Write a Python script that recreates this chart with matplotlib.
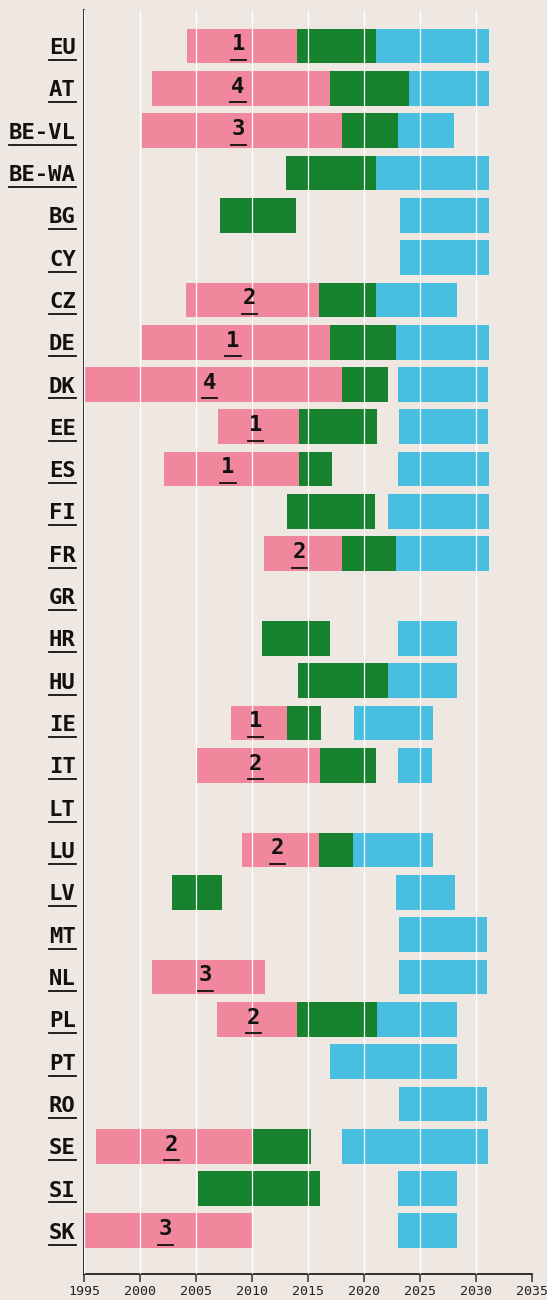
import matplotlib
matplotlib.use('Agg')
import matplotlib.pyplot as plt
from matplotlib.lines import Line2D
import numpy as np

countries = ['EU', 'AT', 'BE-VL', 'BE-WA', 'BG', 'CY', 'CZ', 'DE', 'DK', 'EE',
             'ES', 'FI', 'FR', 'GR', 'HR', 'HU', 'IE', 'IT', 'LT', 'LU',
             'LV', 'MT', 'NL', 'PL', 'PT', 'RO', 'SE', 'SI', 'SK']

nan = np.nan
# pink phase: start, end and the count shown inside it
pink_start = [2004.2, 2001.1, 2000.2, nan, nan, nan, 2004.1, 2000.2, 1995.0, 2007.0,
              2002.1, nan, 2011.1, nan, nan, nan, 2008.1, 2005.1, nan, 2009.1,
              nan, nan, 2001.1, 2006.9, nan, nan, 1996.1, nan, 1995.0]
pink_end = [2014.0, 2017.0, 2018.0, nan, nan, nan, 2016.0, 2017.0, 2018.0, 2014.2,
            2014.2, nan, 2018.0, nan, nan, nan, 2013.1, 2016.1, nan, 2016.0,
            nan, nan, 2011.2, 2014.0, nan, nan, 2010.1, nan, 2010.1]
pink_count = [1, 4, 3, None, None, None, 2, 1, 4, 1,
              1, None, 2, None, None, None, 1, 2, None, 2,
              None, None, 3, 2, None, None, 2, None, 3]

# green phase
green_start = [2014.0, 2017.0, 2018.0, 2013.0, 2007.1, nan, 2016.0, 2017.0, 2018.0, 2014.2,
               2014.2, 2013.1, 2018.0, nan, 2010.9, 2014.1, 2013.1, 2016.1, nan, 2016.0,
               2002.9, nan, nan, 2014.0, nan, nan, 2010.1, 2005.2, nan]
green_end = [2021.1, 2024.0, 2023.0, 2021.1, 2013.9, nan, 2021.1, 2022.9, 2022.1, 2021.2,
             2017.1, 2021.0, 2022.9, nan, 2017.0, 2022.1, 2016.2, 2021.1, nan, 2019.0,
             2007.3, nan, nan, 2021.2, nan, nan, 2015.3, 2016.1, nan]

# blue phase
blue_start = [2021.1, 2024.0, 2023.0, 2021.1, 2023.2, 2023.2, 2021.1, 2022.9, 2023.0, 2023.1,
              2023.0, 2022.1, 2022.9, nan, 2023.0, 2022.1, 2019.1, 2023.0, nan, 2019.0,
              2022.9, 2023.1, 2023.1, 2021.2, 2017.0, 2023.1, 2018.0, 2023.0, 2023.0]
blue_end = [2031.2, 2031.2, 2028.0, 2031.2, 2031.2, 2031.2, 2028.3, 2031.2, 2031.1, 2031.1,
            2031.2, 2031.2, 2031.2, nan, 2028.3, 2028.3, 2026.2, 2026.1, nan, 2026.2,
            2028.1, 2031.0, 2031.0, 2028.3, 2028.3, 2031.0, 2031.1, 2028.3, 2028.3]

years = [1995, 2000, 2005, 2010, 2015, 2020, 2025, 2030, 2035]

bg = '#efe8e2'
pink = '#f0879c'
green = '#16822e'
blue = '#48bfe0'
mono = 'DejaVu Sans Mono'

fig = plt.figure(figsize=(5.47, 13.0), dpi=100, facecolor=bg)
ax = fig.add_axes([0.1536, 0.02, 0.819, 0.9723])
ax.set_facecolor(bg)

y = np.arange(len(countries))
h = 0.82
for starts, ends, col in [(pink_start, pink_end, pink),
                          (green_start, green_end, green),
                          (blue_start, blue_end, blue)]:
    s = np.array(starts)
    e = np.array(ends)
    ok = ~np.isnan(s)
    ax.barh(y[ok], e[ok] - s[ok], left=s[ok], height=h, color=col, zorder=2)

for yr in years:
    ax.axvline(yr, color='white', lw=0.9, zorder=3)

nums = []
for i, c in enumerate(pink_count):
    if c is None:
        continue
    xc = (pink_start[i] + pink_end[i]) / 2 - 0.3
    t = ax.text(xc, i - 0.04, str(c), ha='center', va='center', fontsize=16,
                fontweight='bold', family=mono, color='#111111', zorder=4)
    nums.append((t, i))

ax.set_xlim(1995, 2035)
ax.set_ylim(len(countries) - 1 + 1.02, -0.85)
ax.set_xticks(years)
ax.set_xticklabels([str(v) for v in years], family=mono, fontsize=9.5, color='#222222')
ax.set_yticks(y)
ax.set_yticklabels(countries, family=mono, fontsize=16, fontweight='bold', color='#111111')
ax.tick_params(axis='y', length=0, pad=6)
ax.tick_params(axis='x', length=6, width=1.1, color='#333333', pad=2, direction='out')
for side in ['top', 'right']:
    ax.spines[side].set_visible(False)
for side in ['left', 'bottom']:
    ax.spines[side].set_linewidth(1.2)
    ax.spines[side].set_color('#111111')

# underline the country names and the counts
fig.canvas.draw()
renderer = fig.canvas.get_renderer()
inv = fig.transFigure.inverted()

def underline(bb, row, widen=0):
    yd = ax.transData.transform((0, row + 0.33))[1]
    p0 = inv.transform((bb.x0 - widen, yd))
    p1 = inv.transform((bb.x1 + widen, yd))
    fig.add_artist(Line2D([p0[0], p1[0]], [p0[1], p1[1]], lw=1.3,
                          color='#111111', transform=fig.transFigure, zorder=5))

for i, lab in enumerate(ax.get_yticklabels()):
    underline(lab.get_window_extent(renderer), i)
for t, i in nums:
    underline(t.get_window_extent(renderer), i, widen=1)

fig.savefig('out.png', dpi=100, facecolor=bg)
